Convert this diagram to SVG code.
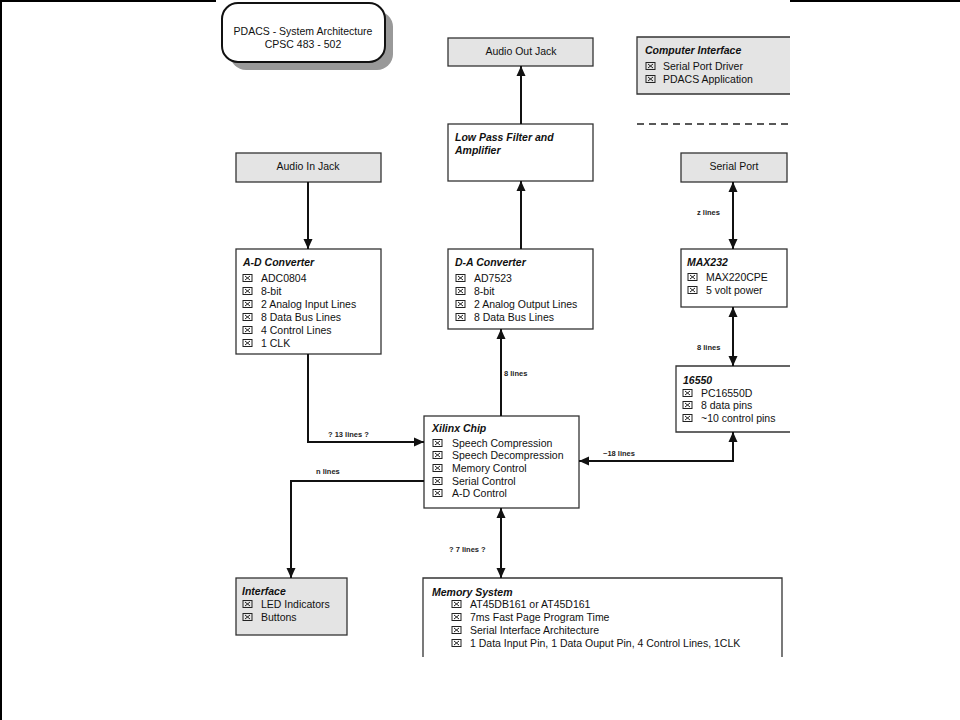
<svg xmlns="http://www.w3.org/2000/svg" width="960" height="720" viewBox="0 0 960 720">
<defs>
<style>
.box{fill:#fff;stroke:#333;stroke-width:1.3}
.gbox{fill:#e4e4e4;stroke:#333;stroke-width:1.3}
.t{font-family:"Liberation Sans",Arial,sans-serif;font-size:10.5px;fill:#111}
.c{text-anchor:middle}
.h{font-family:"Liberation Sans",Arial,sans-serif;font-size:10.5px;font-weight:bold;font-style:italic;fill:#111}
.lbl{font-family:"Liberation Sans",Arial,sans-serif;font-size:7.5px;font-weight:bold;fill:#222}
.con{fill:none;stroke:#111;stroke-width:2}
.frame{stroke:#000;stroke-width:2;fill:none}
</style>
<marker id="ah" markerUnits="userSpaceOnUse" markerWidth="10" markerHeight="10" viewBox="0 0 10 10" refX="10" refY="5" orient="auto-start-reverse">
<path d="M0,0.5 L10,5 L0,9.5 z" fill="#111"/>
</marker>
<g id="cb">
<rect x="0" y="-7.5" width="9" height="7" fill="none" stroke="#222" stroke-width="1"/>
<path d="M2,-6 L7,-2 M7,-6 L2,-2" stroke="#222" stroke-width="1"/>
</g>
</defs>
<rect width="960" height="720" fill="#fff"/>
<g id="frame">
<path class="frame" d="M0,1 L216,1 M790,1 L960,1 M1,0 L1,720"/>
</g>

<g id="title">
<rect x="230" y="11" width="163" height="59" rx="16" fill="#999"/>
<rect x="222" y="3" width="163" height="59" rx="16" fill="#fff" stroke="#111" stroke-width="2"/>
<text class="t c" x="303" y="35">PDACS - System Architecture</text>
<text class="t c" x="303" y="48">CPSC 483 - 502</text>
</g>

<g id="audio-out">
<rect class="gbox" x="448" y="38" width="145" height="28"/>
<text class="t c" x="521" y="55">Audio Out Jack</text>
</g>

<g id="lpf">
<rect class="box" x="448" y="124" width="145" height="57"/>
<text class="h" x="455" y="141">Low Pass Filter and</text>
<text class="h" x="455" y="154">Amplifier</text>
</g>

<g id="computer-interface">
<path d="M790,37 L637,37 L637,94 L790,94" fill="#e4e4e4" stroke="#333" stroke-width="1.3"/>
<text class="h" x="645" y="54">Computer Interface</text>
<use href="#cb" x="646" y="70"/><text class="t" x="663" y="70">Serial Port Driver</text>
<use href="#cb" x="646" y="83"/><text class="t" x="663" y="83">PDACS Application</text>
</g>
<g id="divider">
<line x1="637" y1="124" x2="790" y2="124" stroke="#222" stroke-width="1.3" stroke-dasharray="7,5"/>
</g>

<g id="audio-in">
<rect class="gbox" x="236" y="153" width="145" height="29"/>
<text class="t c" x="308" y="170">Audio In Jack</text>
</g>

<g id="ad-converter">
<rect class="box" x="236" y="249" width="145" height="105"/>
<text class="h" x="243" y="266">A-D Converter</text>
<use href="#cb" x="243" y="282"/><text class="t" x="261" y="282">ADC0804</text>
<use href="#cb" x="243" y="295"/><text class="t" x="261" y="295">8-bit</text>
<use href="#cb" x="243" y="308"/><text class="t" x="261" y="308">2 Analog Input Lines</text>
<use href="#cb" x="243" y="321"/><text class="t" x="261" y="321">8 Data Bus Lines</text>
<use href="#cb" x="243" y="334"/><text class="t" x="261" y="334">4 Control Lines</text>
<use href="#cb" x="243" y="347"/><text class="t" x="261" y="347">1 CLK</text>
</g>

<g id="da-converter">
<rect class="box" x="448" y="249" width="145" height="80"/>
<text class="h" x="455" y="266">D-A Converter</text>
<use href="#cb" x="456" y="282"/><text class="t" x="474" y="282">AD7523</text>
<use href="#cb" x="456" y="295"/><text class="t" x="474" y="295">8-bit</text>
<use href="#cb" x="456" y="308"/><text class="t" x="474" y="308">2 Analog Output Lines</text>
<use href="#cb" x="456" y="321"/><text class="t" x="474" y="321">8 Data Bus Lines</text>
</g>

<g id="serial-port">
<rect class="gbox" x="681" y="153" width="106" height="29"/>
<text class="t c" x="734" y="170">Serial Port</text>
</g>

<g id="max232">
<rect class="box" x="681" y="249" width="106" height="58"/>
<text class="h" x="687" y="266">MAX232</text>
<use href="#cb" x="688" y="281"/><text class="t" x="706" y="281">MAX220CPE</text>
<use href="#cb" x="688" y="294"/><text class="t" x="706" y="294">5 volt power</text>
</g>

<g id="uart16550">
<path d="M790,366 L676,366 L676,432 L790,432" fill="#fff" stroke="#333" stroke-width="1.3"/>
<text class="h" x="683" y="384">16550</text>
<use href="#cb" x="683" y="397"/><text class="t" x="701" y="397">PC16550D</text>
<use href="#cb" x="683" y="409"/><text class="t" x="701" y="409">8 data pins</text>
<use href="#cb" x="683" y="422"/><text class="t" x="701" y="422">~10 control pins</text>
</g>

<g id="xilinx">
<rect class="box" x="424" y="416" width="155" height="92"/>
<text class="h" x="432" y="432">Xilinx Chip</text>
<use href="#cb" x="433" y="447"/><text class="t" x="452" y="447">Speech Compression</text>
<use href="#cb" x="433" y="459"/><text class="t" x="452" y="459">Speech Decompression</text>
<use href="#cb" x="433" y="472"/><text class="t" x="452" y="472">Memory Control</text>
<use href="#cb" x="433" y="485"/><text class="t" x="452" y="485">Serial Control</text>
<use href="#cb" x="433" y="497"/><text class="t" x="452" y="497">A-D Control</text>
</g>

<g id="interface">
<rect class="gbox" x="236" y="578" width="111" height="57"/>
<text class="h" x="242" y="595">Interface</text>
<use href="#cb" x="243" y="608"/><text class="t" x="261" y="608">LED Indicators</text>
<use href="#cb" x="243" y="621"/><text class="t" x="261" y="621">Buttons</text>
</g>

<g id="memory">
<path d="M423,657 L423,578 L782,578 L782,657" fill="#fff" stroke="#333" stroke-width="1.3"/>
<text class="h" x="432" y="596">Memory System</text>
<use href="#cb" x="452" y="608"/><text class="t" x="470" y="608">AT45DB161 or AT45D161</text>
<use href="#cb" x="452" y="621"/><text class="t" x="470" y="621">7ms Fast Page Program Time</text>
<use href="#cb" x="452" y="634"/><text class="t" x="470" y="634">Serial Interface Architecture</text>
<use href="#cb" x="452" y="647"/><text class="t" x="470" y="647">1 Data Input Pin, 1 Data Ouput Pin, 4 Control Lines, 1CLK</text>
</g>

<g id="connectors">
<path class="con" d="M308,182 L308,249" marker-end="url(#ah)"/>
<path class="con" d="M308,354 L308,442 L424,442" marker-end="url(#ah)"/>
<path class="con" d="M501,416 L501,329" marker-end="url(#ah)"/>
<path class="con" d="M521,249 L521,181" marker-end="url(#ah)"/>
<path class="con" d="M521,124 L521,66" marker-end="url(#ah)"/>
<path class="con" d="M733,182 L733,249" marker-start="url(#ah)" marker-end="url(#ah)"/>
<path class="con" d="M733,307 L733,366" marker-start="url(#ah)" marker-end="url(#ah)"/>
<path class="con" d="M733,432 L733,461 L579,461" marker-start="url(#ah)" marker-end="url(#ah)"/>
<path class="con" d="M424,481 L291,481 L291,578" marker-end="url(#ah)"/>
<path class="con" d="M501,508 L501,578" marker-start="url(#ah)" marker-end="url(#ah)"/>
<text class="lbl" x="697" y="215">z lines</text>
<text class="lbl" x="697" y="350">8 lines</text>
<text class="lbl" x="504" y="376">8 lines</text>
<text class="lbl" x="603" y="456">~18 lines</text>
<text class="lbl" x="328" y="437">? 13 lines  ?</text>
<text class="lbl" x="316" y="474">n lines</text>
<text class="lbl" x="449" y="552">? 7 lines ?</text>
</g>
</svg>
